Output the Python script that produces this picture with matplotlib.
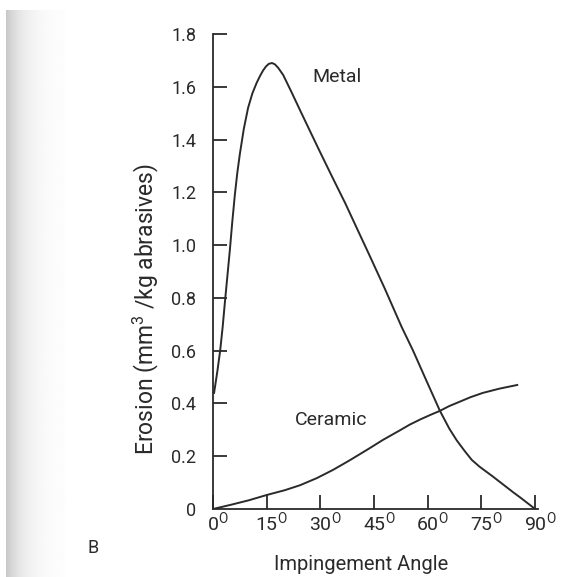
import numpy as np
import matplotlib
matplotlib.use("Agg")
import matplotlib.pyplot as plt
import matplotlib.transforms as mtransforms

plt.rcParams['font.family'] = ['Roboto', 'DejaVu Sans']
plt.rcParams['mathtext.fontset'] = 'custom'
plt.rcParams['mathtext.rm'] = 'Roboto'

# values (angle in degrees, erosion in mm3/kg)
metal_angle = [0.3, 1.2, 2.0, 2.7, 3.3, 4.0, 4.7, 5.4, 6.1, 6.8, 7.5, 8.6, 9.8, 11.0,
               12.2, 13.1, 14.0, 14.8, 15.6, 16.5, 17.3, 18.2, 19.6, 22.0, 24.5,
               27.0, 29.9, 33.5, 36.9, 40.5, 43.9, 48.0, 52.7, 55.9, 59.5, 63.4,
               66.0, 68.1, 70.3, 72.3, 74.5, 76.5, 78.0, 80.0, 82.0, 84.0, 86.0,
               88.0, 90.0]
metal_erosion = [0.44, 0.52, 0.60, 0.69, 0.78, 0.88, 0.98, 1.09, 1.19, 1.275, 1.345, 1.44,
                 1.52, 1.575, 1.615, 1.64, 1.662, 1.677, 1.687, 1.69, 1.685, 1.672,
                 1.645, 1.578, 1.506, 1.435, 1.353, 1.253, 1.16, 1.055, 0.956, 0.835,
                 0.69, 0.60, 0.49, 0.372, 0.305, 0.26, 0.22, 0.186, 0.16, 0.14,
                 0.125, 0.104, 0.083, 0.062, 0.042, 0.021, 0.0]

ceramic_angle = [0, 5, 10, 15, 20, 24.3, 29, 33.5, 38, 43, 47.5, 52.2, 55, 58,
                 60.8, 63.4, 66, 69, 72, 75.4, 78, 80, 82.5, 85]
ceramic_erosion = [0, 0.016, 0.033, 0.053, 0.071, 0.09, 0.117, 0.148, 0.183, 0.224,
                   0.262, 0.298, 0.32, 0.34, 0.357, 0.372, 0.39, 0.407, 0.424, 0.44,
                   0.449, 0.456, 0.463, 0.47]

xticks = [0, 15, 30, 45, 60, 75, 90]
yticks = [0, 0.2, 0.4, 0.6, 0.8, 1.0, 1.2, 1.4, 1.6, 1.8]
ytick_labels = ['0', '0.2', '0.4', '0.6', '0.8', '1.0', '1.2', '1.4', '1.6', '1.8']

ink = '#2a2a2a'

fig = plt.figure(figsize=(5.63, 5.77), dpi=100)

# grey shadow of the scanned page edge
bg = fig.add_axes([6 / 563, 0, 60 / 563, 567 / 577])
xx = np.linspace(0, 1, 200)
shade = 1 - 0.22 * np.exp(-xx * 3.5)
bg.imshow(np.tile(shade, (10, 1)), cmap='gray', vmin=0, vmax=1, aspect='auto',
          extent=[0, 1, 0, 1])
bg.axis('off')

ax = fig.add_axes([213 / 563, 68 / 577, 325 / 563, 475 / 577])
ax.plot(metal_angle, metal_erosion, color=ink, lw=1.4)
ax.plot(ceramic_angle, ceramic_erosion, color=ink, lw=1.4)

ax.set_xlim(0, 90.8)
ax.set_ylim(0, 1.8)
ax.spines['top'].set_visible(False)
ax.spines['right'].set_visible(False)
for s in ('left', 'bottom'):
    ax.spines[s].set_color(ink)
    ax.spines[s].set_linewidth(1.3)

ax.set_xticks(xticks)
ax.set_xticklabels([r'%d$^{\mathrm{O}}$' % t for t in xticks])
ax.set_yticks(yticks)
ax.set_yticklabels(ytick_labels)
ax.tick_params(axis='both', direction='in', length=10, width=1.3, color=ink,
               labelcolor=ink, labelsize=13)
ax.tick_params(axis='x', pad=1, labelsize=14)
ax.tick_params(axis='y', pad=12)
ax.yaxis.get_major_ticks()[0].tick1line.set_visible(False)

# keep the number centred on its tick, degree mark hanging to the right
shift = mtransforms.ScaledTranslation(5 / 100, 0, fig.dpi_scale_trans)
for lab in ax.get_xticklabels():
    lab.set_transform(lab.get_transform() + shift)

fig.text(312 / 563, 1 - 77 / 577, 'Metal', fontsize=14, color=ink, va='center')
fig.text(295 / 563, 1 - 420 / 577, 'Ceramic', fontsize=14, color=ink, va='center')

fig.text(361 / 563, 1 - 565 / 577, 'Impingement Angle', ha='center', va='center',
         fontsize=14.5, color=ink)
fig.text(146 / 563, 1 - 309 / 577, r'Erosion (mm$^{3}$ /kg abrasives)', ha='center',
         va='center', rotation=90, fontsize=16.5, color=ink)
fig.text(93 / 563, 1 - 548 / 577, 'B', ha='center', va='center', fontsize=13, color=ink)

fig.savefig('out.png', dpi=100)
